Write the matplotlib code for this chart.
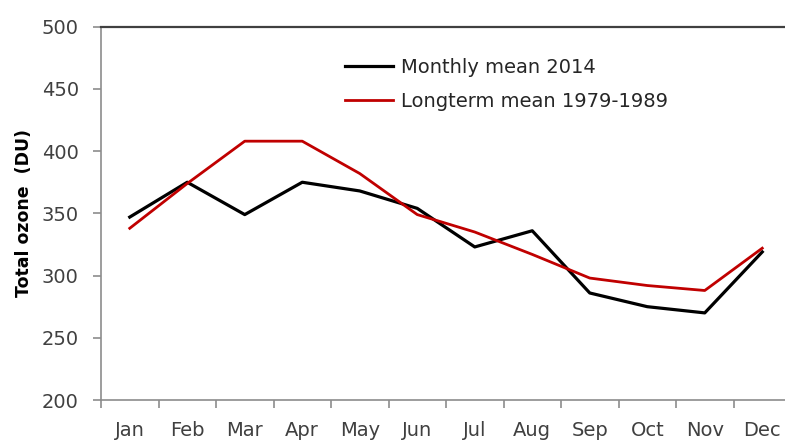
import numpy as np
import matplotlib
matplotlib.use("Agg")
import matplotlib.pyplot as plt

months = ["Jan", "Feb", "Mar", "Apr", "May", "Jun",
          "Jul", "Aug", "Sep", "Oct", "Nov", "Dec"]
mean_2014 = [347, 375, 349, 375, 368, 354, 323, 336, 286, 275, 270, 319]
longterm = [338, 374, 408, 408, 382, 349, 335, 317, 298, 292, 288, 322]
y_ticks = [200, 250, 300, 350, 400, 450, 500]

plt.rcParams['font.family'] = ['DejaVu Sans']

fig = plt.figure(figsize=(7.85, 4.41), dpi=100)
ax = fig.add_axes([101 / 785, 41 / 441, 690 / 785, 373.3 / 441])

x = np.arange(len(months))
ax.plot(x, mean_2014, color="black", lw=2.3, label="Monthly mean 2014")
ax.plot(x, longterm, color="#C00000", lw=2.0, label="Longterm mean 1979-1989")

ax.set_xlim(-0.5, len(months) - 0.5)
ax.set_ylim(200, 500)
ax.set_yticks(y_ticks)
ax.set_xticks(x)
ax.set_xticklabels(months)
ax.set_xticks(np.arange(len(months) + 1) - 0.5, minor=True)

ax.tick_params(axis="x", which="major", length=0, pad=15,
               labelsize=14, labelcolor="#404040")
ax.tick_params(axis="x", which="minor", length=6, width=1.2, color="#8c8c8c")
ax.tick_params(axis="y", length=6, width=1.2, color="#8c8c8c",
               labelsize=14, labelcolor="#404040", pad=10)

for side in ["left", "bottom"]:
    ax.spines[side].set_color("#8c8c8c")
    ax.spines[side].set_linewidth(1.2)
ax.spines["top"].set_color("#404040")
ax.spines["top"].set_linewidth(1.6)
ax.spines["right"].set_visible(False)

ax.set_ylabel("Total ozone  (DU)", fontsize=12.5, fontweight="bold",
              color="black", labelpad=6)

ax.legend(loc="upper left", bbox_to_anchor=(327 / 785, 1 - 40 / 441),
          bbox_transform=fig.transFigure, frameon=False, fontsize=14,
          handlelength=2.5, handletextpad=0.4, labelspacing=0.8,
          labelcolor="#262626")

fig.savefig("out.png", dpi=100)
